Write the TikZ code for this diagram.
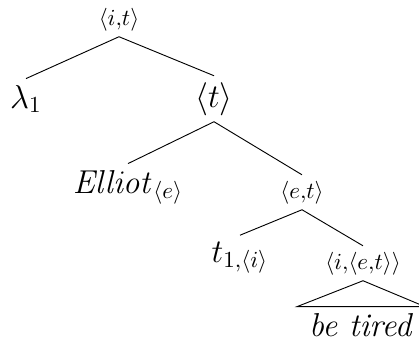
\documentclass[tikz,border=0pt]{standalone}
\usepackage{tikz}

\begin{document}
\begin{tikzpicture}[
    x=0.435pt, y=-0.435pt,
    font=\Large,
    leaf/.style={anchor=base, inner sep=2.6pt},
    type/.style={anchor=base, font=\fontsize{9.8pt}{12pt}\selectfont, inner sep=2.4pt}
]
\useasboundingbox (0,0) rectangle (419,343);
% types and leaves, placed at their baselines
\node[type] (root) at (119,25) {$\langle i{,}t\rangle$};
\node[leaf] (lam) at (26,108) {$\lambda_1$};
\node[leaf] (tnode) at (214,107) {$\langle t\rangle$};
\node[leaf] (elliot) at (128,193) {$\mathit{Elliot}_{\langle e\rangle}$};
\node[type] (et) at (302,198) {$\langle e{,}t\rangle$};
\node[leaf] (tone) at (240,262) {$t_{1,\langle i\rangle}$};
\node[type] (iet) at (363,269) {$\langle i{,}\langle e{,}t\rangle\rangle$};
\node[leaf, inner xsep=5pt] (tired) at (361,336) {\textit{be tired}};
% branches
\draw (root.south) -- (lam.north);
\draw (root.south) -- (tnode.north);
\draw (tnode.south) -- (elliot.north);
\draw (tnode.south) -- (et.north);
\draw (et.south) -- (tone.north);
\draw (et.south) -- (iet.north);
\draw (iet.south) -- (tired.north west) -- (tired.north east) -- cycle;
\end{tikzpicture}
\end{document}
